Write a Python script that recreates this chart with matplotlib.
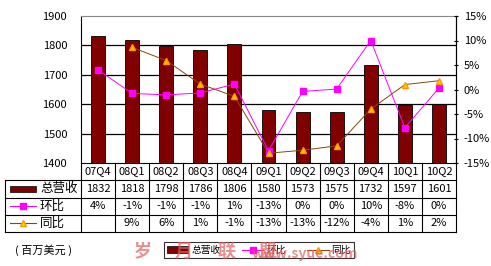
import matplotlib
matplotlib.use('Agg')
import matplotlib.pyplot as plt
import matplotlib.transforms as mtransforms
from matplotlib.lines import Line2D
from matplotlib.patches import Rectangle

plt.rcParams['font.family'] = ['Noto Sans CJK SC', 'DejaVu Sans']

quarters = ['07Q4', '08Q1', '08Q2', '08Q3', '08Q4', '09Q1', '09Q2', '09Q3', '09Q4', '10Q1', '10Q2']
revenue = [1832, 1818, 1798, 1786, 1806, 1580, 1573, 1575, 1732, 1597, 1601]
qoq = [4.0, -0.8, -1.1, -0.7, 1.1, -12.5, -0.4, 0.1, 10.0, -7.8, 0.3]
yoy = [None, 8.6, 5.9, 1.1, -1.4, -13.0, -12.4, -11.5, -4.0, 1.0, 1.8]
qoq_labels = ['4%', '-1%', '-1%', '-1%', '1%', '-13%', '0%', '0%', '10%', '-8%', '0%']
yoy_labels = ['', '9%', '6%', '1%', '-1%', '-13%', '-13%', '-12%', '-4%', '1%', '2%']

bar_color = '#800000'
qoq_color = '#FF00FF'
yoy_color = '#8B4513'
tri_color = '#FFCC00'

W, H = 491, 266
fig = plt.figure(figsize=(W / 100, H / 100), dpi=100)
fig.patch.set_facecolor('white')

# plot area in pixels: x 81..456, y 16..163
ax = fig.add_axes([81 / W, (H - 163) / H, 375 / W, 147 / H])
x = list(range(len(quarters)))
ax.bar(x, revenue, width=0.41, color=bar_color, edgecolor='black', linewidth=0.6, zorder=2)
ax.set_xlim(-0.5, len(quarters) - 0.5)
ax.set_ylim(1400, 1900)
ax.set_yticks([1400, 1500, 1600, 1700, 1800, 1900])
ax.tick_params(axis='y', length=0, pad=10, labelsize=8)
ax.set_xticks([])
for v in [1500, 1600, 1700, 1800]:
    ax.axhline(v, color='black', linewidth=0.9, zorder=1)
ax.spines['top'].set_color('#888888')
ax.spines['right'].set_color('black')
ax.spines['left'].set_color('black')
ax.spines['bottom'].set_visible(False)

ax2 = ax.twinx()
ax2.set_ylim(-15, 15)
ax2.set_yticks([-15, -10, -5, 0, 5, 10, 15])
ax2.set_yticklabels(['%d%%' % v for v in [-15, -10, -5, 0, 5, 10, 15]])
ax2.tick_params(axis='y', length=3, direction='inout', pad=4, labelsize=8)
for s in ['top', 'bottom', 'left']:
    ax2.spines[s].set_visible(False)
ax2.plot(x, qoq, color=qoq_color, linewidth=0.7, marker='s', markersize=5,
         markerfacecolor=qoq_color, markeredgecolor=qoq_color, zorder=3)
yx = [i for i, v in zip(x, yoy) if v is not None]
yv = [v for v in yoy if v is not None]
ax2.plot(yx, yv, color=yoy_color, linewidth=0.7, marker='^', markersize=5,
         markerfacecolor=tri_color, markeredgecolor='#FF9900', zorder=3)

# data table below the plot area
tr = mtransforms.blended_transform_factory(ax.transData, ax.transAxes)
px = 1 / 147.0
rows_y = [0, -17 * px, -34.5 * px, -51.5 * px, -68.5 * px]
left_x = -0.5 - 76 / 34.09
right_x = len(quarters) - 0.5
for i, yy in enumerate(rows_y):
    x0 = -0.5 if i == 0 else left_x
    ax.add_line(Line2D([x0, right_x], [yy, yy], color='black', linewidth=0.8,
                       transform=tr, clip_on=False))
ax.add_line(Line2D([left_x, left_x], [rows_y[1], rows_y[4]], color='black', linewidth=0.8,
                   transform=tr, clip_on=False))
for k in range(len(quarters) + 1):
    xx = k - 0.5
    ax.add_line(Line2D([xx, xx], [rows_y[0], rows_y[4]], color='black', linewidth=0.8,
                       transform=tr, clip_on=False))

rev_labels = [str(v) for v in revenue]
for row, labels in enumerate([quarters, rev_labels, qoq_labels, yoy_labels]):
    ymid = (rows_y[row] + rows_y[row + 1]) / 2
    for i, t in enumerate(labels):
        ax.text(i, ymid, t, transform=tr, ha='center', va='center', fontsize=8, clip_on=False)

# row headers with keys
kx0 = left_x + 5 / 34.09
kx1 = left_x + 31 / 34.09
tx = left_x + 35 / 34.09
ym = [(rows_y[r] + rows_y[r + 1]) / 2 for r in range(1, 4)]
ax.add_patch(Rectangle((kx0, ym[0] - 3 * px), kx1 - kx0, 6 * px, facecolor=bar_color,
                       edgecolor='black', linewidth=0.5, transform=tr, clip_on=False))
ax.add_line(Line2D([kx0, kx1], [ym[1], ym[1]], color=qoq_color, linewidth=0.8,
                   transform=tr, clip_on=False))
ax.add_line(Line2D([(kx0 + kx1) / 2], [ym[1]], color=qoq_color, marker='s', markersize=4,
                   transform=tr, clip_on=False))
ax.add_line(Line2D([kx0, kx1], [ym[2], ym[2]], color=yoy_color, linewidth=0.8,
                   transform=tr, clip_on=False))
ax.add_line(Line2D([(kx0 + kx1) / 2], [ym[2]], color=yoy_color, marker='^', markersize=4,
                   markerfacecolor=tri_color, markeredgecolor='#FF9900',
                   transform=tr, clip_on=False))
for yy, t in zip(ym, ['总营收', '环比', '同比']):
    ax.text(tx, yy, t, transform=tr, ha='left', va='center', fontsize=9, clip_on=False)

fig.text(15 / W, 1 - 250 / H, '( 百万美元 )', ha='left', va='center', fontsize=8)

handles = [Rectangle((0, 0), 1, 1, facecolor=bar_color, edgecolor='black', linewidth=0.5),
           Line2D([], [], color=qoq_color, marker='s', markersize=4, linewidth=0.8),
           Line2D([], [], color=yoy_color, marker='^', markersize=4, linewidth=0.8,
                  markerfacecolor=tri_color, markeredgecolor='#FF9900')]
leg = fig.legend(handles, ['总营收', '环比', '同比'], loc='center',
                 bbox_to_anchor=(259 / W, 1 - 250 / H), ncol=3, fontsize=7,
                 frameon=True, fancybox=False, edgecolor='black', handlelength=2.2,
                 handletextpad=0.3, columnspacing=2.2, borderpad=0.3)
leg.get_frame().set_linewidth(0.8)
leg.set_zorder(4)

# watermark drawn over the legend, as in the source image
for cx, ch in zip([143, 184, 226, 267], ['岁', '月', '联', '盟']):
    fig.text(cx / W, 1 - 251 / H, ch, ha='center', va='center', fontsize=13,
             color='#e06060', alpha=0.7, fontweight='bold', zorder=10)
fig.text(305 / W, 1 - 254 / H, 'www.syue.com', ha='center', va='center', fontsize=10,
         color='#e06060', alpha=0.7, fontweight='bold', zorder=10)

fig.savefig('out.png', dpi=100)
